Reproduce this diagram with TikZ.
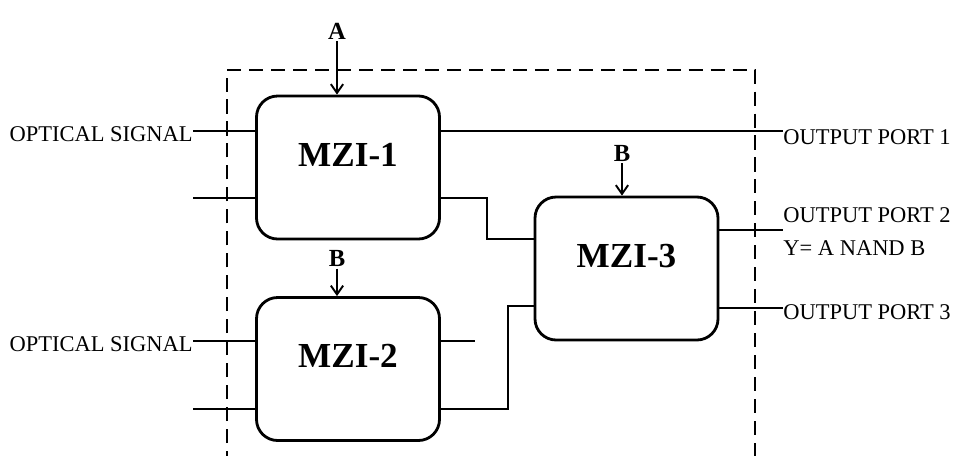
\documentclass[tikz,border=0pt]{standalone}
\usepackage{fontspec}
\setmainfont{Liberation Serif}
\usepackage{tikz}
\usetikzlibrary{arrows.meta,positioning,calc}

\begin{document}
\begin{tikzpicture}[
  >={Straight Barb[length=5pt,width=7pt]},
  wire/.style={line width=1.6pt},
  ctrl/.style={->, line width=1.1pt},
  mzi/.style={draw, line width=1.6pt, rounded corners=12pt, minimum width=3.66cm,
              minimum height=2.86cm, text depth=0.52cm, font=\fontsize{20}{22}\selectfont\bfseries},
  sig/.style={font=\fontsize{12.8}{15}\selectfont, inner sep=0pt},
  ctrllbl/.style={font=\fontsize{14}{16}\selectfont\bfseries, inner sep=1pt},
  border/.style={dash pattern=on 8pt off 4.5pt, line width=0.8pt}
]
\clip (0,0) rectangle (19.16,-9.12);
\useasboundingbox (0,0) rectangle (19.16,-9.12);

% ---- X positions ----
\def\xin{3.86}    % input stubs start
\def\xout{15.66}  % output stubs end

% ---- Dashed enclosure ----
\draw[border] (4.54,-9.3) -- (4.54,-1.4) -- (15.1,-1.4) -- (15.1,-9.3);

% ---- MZI blocks ----
\node[mzi] (mzi1) at (6.96,-3.35) {MZI-1};
\node[mzi] (mzi2) at (6.96,-7.38) {MZI-2};
\node[mzi] (mzi3) at (12.53,-5.37) {MZI-3};

% ---- Control inputs ----
\node[ctrllbl] (ctlA) at (6.74,-0.62) {A};
\node[ctrllbl] (ctlB2) at (6.74,-5.17) {B};
\node[ctrllbl] (ctlB3) at (12.44,-3.06) {B};
\draw[ctrl] (ctlA.south) -- (ctlA.south |- mzi1.north);
\draw[ctrl] (ctlB2.south) -- (ctlB2.south |- mzi2.north);
\draw[ctrl] (ctlB3.south) -- (ctlB3.south |- mzi3.north);

% ---- Inputs ----
\coordinate (in1a) at (\xin,-2.62);
\coordinate (in1b) at (\xin,-3.96);
\coordinate (in2a) at (\xin,-6.82);
\coordinate (in2b) at (\xin,-8.18);
\foreach \c/\m in {in1a/mzi1, in1b/mzi1, in2a/mzi2, in2b/mzi2}
  \draw[wire] (\c) -- (\m.west |- \c);
\node[sig, anchor=east] (sig1) at (\xin,-2.68) {OPTICAL SIGNAL};
\node[sig, anchor=east] (sig2) at (\xin,-6.88) {OPTICAL SIGNAL};

% ---- Internal routing ----
\coordinate (o1a) at (\xout,-2.62);
\draw[wire] (mzi1.east |- o1a) -- (o1a);
\draw[wire] (mzi1.east |- in1b) -| (9.74,-4.78) -- (mzi3.west |- 0,-4.78);
\draw[wire] (mzi2.east |- in2a) -- (9.5,-6.82);
\draw[wire] (mzi2.east |- in2b) -| (10.16,-6.12) -- (mzi3.west |- 0,-6.12);

% ---- Outputs ----
\coordinate (o3a) at (\xout,-4.6);
\coordinate (o3b) at (\xout,-6.16);
\draw[wire] (mzi3.east |- o3a) -- (o3a);
\draw[wire] (mzi3.east |- o3b) -- (o3b);
\node[sig, anchor=west] (port1) at (\xout,-2.74) {OUTPUT PORT 1};
\node[sig, anchor=west] (port2) at (\xout,-4.3) {OUTPUT PORT 2};
\node[sig, anchor=west] (nand) at (\xout,-4.96) {Y= A NAND B};
\node[sig, anchor=west] (port3) at (\xout,-6.24) {OUTPUT PORT 3};

\end{tikzpicture}
\end{document}
